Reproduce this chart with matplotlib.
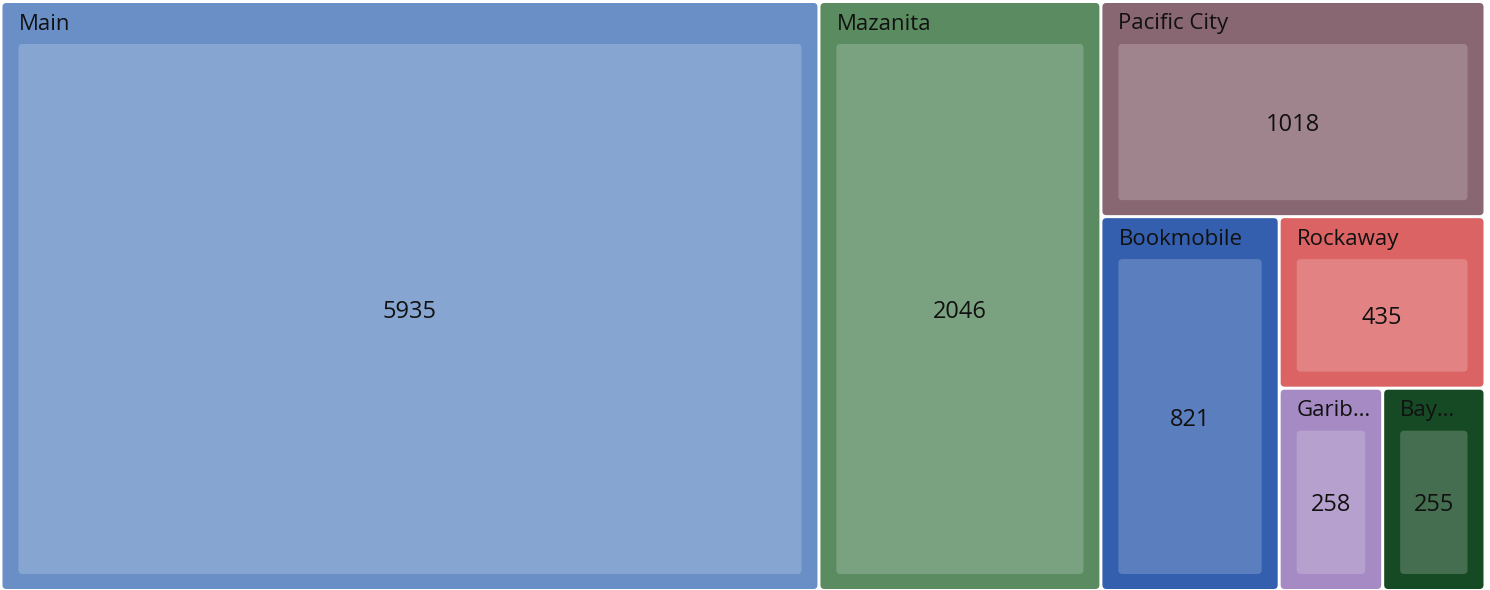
import matplotlib
matplotlib.use("Agg")
import matplotlib.pyplot as plt
from matplotlib.patches import FancyBboxPatch

# branch circulation counts
branches = ["Main", "Mazanita", "Pacific City", "Bookmobile", "Rockaway",
            "Garibaldi", "Bay City"]
counts = [5935, 2046, 1018, 821, 435, 258, 255]
colors = ["#6a8fc6", "#5b8c61", "#886672", "#335fae", "#db6363",
          "#a58ac3", "#164a24"]

W, H = 1490, 590
plt.rcParams['font.family'] = ['Open Sans', 'DejaVu Sans']


def worst(row, w):
    s = sum(row)
    return max(max(w * w * r / (s * s), s * s / (w * w * r)) for r in row)


def layout_row(row, x, y, dx, dy, out):
    s = sum(row)
    if dx >= dy:
        # column on the left
        cw = s / dy
        yy = y
        for r in row:
            h = r / cw
            out.append((x, yy, cw, h))
            yy += h
        return x + cw, y, dx - cw, dy
    else:
        rh = s / dx
        xx = x
        for r in row:
            w = r / rh
            out.append((xx, y, w, rh))
            xx += w
        return x, y + rh, dx, dy - rh


def squarify(vals, x, y, dx, dy):
    total = sum(vals)
    areas = [v * dx * dy / total for v in vals]
    out = []
    row = []
    i = 0
    while i < len(areas):
        side = min(dx, dy)
        a = areas[i]
        if not row or worst(row + [a], side) <= worst(row, side):
            row.append(a)
            i += 1
        else:
            x, y, dx, dy = layout_row(row, x, y, dx, dy, out)
            row = []
    if row:
        layout_row(row, x, y, dx, dy, out)
    return out


fig = plt.figure(figsize=(W / 100, H / 100), dpi=100)
ax = fig.add_axes([0, 0, 1, 1])
ax.set_xlim(0, W)
ax.set_ylim(H, 0)
ax.axis('off')

rects = squarify(counts, 1, 1.5, 1484, 589)
gap = 1.5
renderer = fig.canvas.get_renderer()

for (x, y, w, h), name, val, col in zip(rects, branches, counts, colors):
    x0, y0, w0, h0 = x + gap, y + gap, w - 2 * gap, h - 2 * gap
    ax.add_patch(FancyBboxPatch((x0, y0), w0, h0,
                                boxstyle="round,pad=0,rounding_size=4",
                                fc=col, ec='none'))
    ax.add_patch(FancyBboxPatch((x0 + 16, y0 + 41), w0 - 32, h0 - 56,
                                boxstyle="round,pad=0,rounding_size=4",
                                fc='white', alpha=0.2, ec='none'))
    # header label, shortened with an ellipsis when it does not fit
    t = ax.text(x0 + 16, y0 + 21, name, fontsize=16, va='center',
                ha='left', color='#111111')
    room = w0 - 20
    label = name
    while t.get_window_extent(renderer).width > room and len(label) > 1:
        label = label[:-1]
        short = label
        if ' ' in short:
            short = short[:short.rfind(' ')]
        t.set_text(short.rstrip() + "…")
    ax.text(x0 + w0 / 2, y0 + 41 + (h0 - 56) / 2, str(val), fontsize=17,
            ha='center', va='center_baseline', color='#111111')

plt.savefig('out.png', dpi=100)
